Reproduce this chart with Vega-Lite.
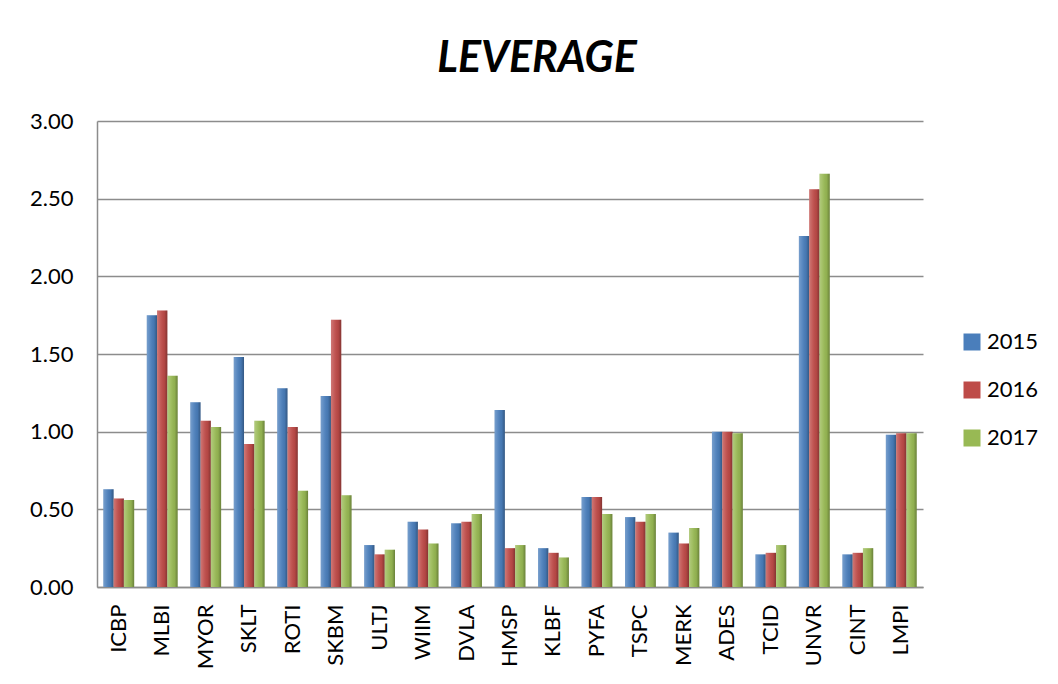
{
  "$schema": "https://vega.github.io/schema/vega-lite/v6.json",
  "width": 826,
  "height": 466,
  "autosize": {"type": "none"},
  "padding": {"left": 97, "top": 121, "right": 135, "bottom": 97},
  "background": "white",
  "title": {
    "text": "LEVERAGE",
    "font": "Lato",
    "fontSize": 43,
    "fontWeight": "bold",
    "fontStyle": "italic",
    "color": "black",
    "anchor": "middle",
    "dx": 27,
    "baseline": "alphabetic",
    "offset": -5
  },
  "config": {
    "view": {"stroke": null},
    "font": "Lato",
    "axis": {"labelFont": "Lato", "labelColor": "black", "titleColor": "black"}
  },
  "data": {
    "values": [
      {"company": "ICBP", "year": "2015", "value": 0.63},
      {"company": "ICBP", "year": "2016", "value": 0.57},
      {"company": "ICBP", "year": "2017", "value": 0.56},
      {"company": "MLBI", "year": "2015", "value": 1.75},
      {"company": "MLBI", "year": "2016", "value": 1.78},
      {"company": "MLBI", "year": "2017", "value": 1.36},
      {"company": "MYOR", "year": "2015", "value": 1.19},
      {"company": "MYOR", "year": "2016", "value": 1.07},
      {"company": "MYOR", "year": "2017", "value": 1.03},
      {"company": "SKLT", "year": "2015", "value": 1.48},
      {"company": "SKLT", "year": "2016", "value": 0.92},
      {"company": "SKLT", "year": "2017", "value": 1.07},
      {"company": "ROTI", "year": "2015", "value": 1.28},
      {"company": "ROTI", "year": "2016", "value": 1.03},
      {"company": "ROTI", "year": "2017", "value": 0.62},
      {"company": "SKBM", "year": "2015", "value": 1.23},
      {"company": "SKBM", "year": "2016", "value": 1.72},
      {"company": "SKBM", "year": "2017", "value": 0.59},
      {"company": "ULTJ", "year": "2015", "value": 0.27},
      {"company": "ULTJ", "year": "2016", "value": 0.21},
      {"company": "ULTJ", "year": "2017", "value": 0.24},
      {"company": "WIIM", "year": "2015", "value": 0.42},
      {"company": "WIIM", "year": "2016", "value": 0.37},
      {"company": "WIIM", "year": "2017", "value": 0.28},
      {"company": "DVLA", "year": "2015", "value": 0.41},
      {"company": "DVLA", "year": "2016", "value": 0.42},
      {"company": "DVLA", "year": "2017", "value": 0.47},
      {"company": "HMSP", "year": "2015", "value": 1.14},
      {"company": "HMSP", "year": "2016", "value": 0.25},
      {"company": "HMSP", "year": "2017", "value": 0.27},
      {"company": "KLBF", "year": "2015", "value": 0.25},
      {"company": "KLBF", "year": "2016", "value": 0.22},
      {"company": "KLBF", "year": "2017", "value": 0.19},
      {"company": "PYFA", "year": "2015", "value": 0.58},
      {"company": "PYFA", "year": "2016", "value": 0.58},
      {"company": "PYFA", "year": "2017", "value": 0.47},
      {"company": "TSPC", "year": "2015", "value": 0.45},
      {"company": "TSPC", "year": "2016", "value": 0.42},
      {"company": "TSPC", "year": "2017", "value": 0.47},
      {"company": "MERK", "year": "2015", "value": 0.35},
      {"company": "MERK", "year": "2016", "value": 0.28},
      {"company": "MERK", "year": "2017", "value": 0.38},
      {"company": "ADES", "year": "2015", "value": 1.00},
      {"company": "ADES", "year": "2016", "value": 1.00},
      {"company": "ADES", "year": "2017", "value": 0.99},
      {"company": "TCID", "year": "2015", "value": 0.21},
      {"company": "TCID", "year": "2016", "value": 0.22},
      {"company": "TCID", "year": "2017", "value": 0.27},
      {"company": "UNVR", "year": "2015", "value": 2.26},
      {"company": "UNVR", "year": "2016", "value": 2.56},
      {"company": "UNVR", "year": "2017", "value": 2.66},
      {"company": "CINT", "year": "2015", "value": 0.21},
      {"company": "CINT", "year": "2016", "value": 0.22},
      {"company": "CINT", "year": "2017", "value": 0.25},
      {"company": "LMPI", "year": "2015", "value": 0.98},
      {"company": "LMPI", "year": "2016", "value": 0.99},
      {"company": "LMPI", "year": "2017", "value": 0.99}
    ]
  },
  "encoding": {
    "x": {
      "field": "company",
      "type": "nominal",
      "sort": null,
      "scale": {"paddingInner": 0.29, "paddingOuter": 0.145},
      "axis": {
        "title": null,
        "labelAngle": -90,
        "labelFontSize": 22,
        "labelPadding": 17,
        "ticks": false,
        "domainColor": "#8c8c8c",
        "domainWidth": 1.5,
        "grid": false
      }
    },
    "xOffset": {"field": "year", "type": "nominal", "scale": {"paddingInner": 0, "paddingOuter": 0}},
    "y": {
      "field": "value",
      "type": "quantitative",
      "scale": {"domain": [0, 3], "nice": false},
      "axis": {
        "title": null,
        "values": [0, 0.5, 1, 1.5, 2, 2.5, 3],
        "format": ".2f",
        "labelFontSize": 22,
        "labelPadding": 24,
        "ticks": false,
        "domainColor": "#8c8c8c",
        "domainWidth": 1.5,
        "gridColor": "#8c8c8c",
        "gridWidth": 1.5
      }
    }
  },
  "layer": [
    {
      "mark": {"type": "bar"},
      "encoding": {
        "color": {
          "field": "year",
          "type": "nominal",
          "scale": {"domain": ["2015", "2016", "2017"], "range": ["#4A7EBB", "#BE4B48", "#98B954"]},
          "legend": {
            "title": null,
            "orient": "none",
            "legendX": 864,
            "legendY": 210,
            "symbolType": "square",
            "symbolSize": 289,
            "symbolStrokeWidth": 0,
            "labelFontSize": 22,
            "labelFont": "Lato",
            "labelColor": "black",
            "rowPadding": 26,
            "labelOffset": 4
          }
        }
      }
    },
    {
      "mark": {
        "type": "bar",
        "fill": {
          "gradient": "linear",
          "x1": 0, "y1": 0, "x2": 1, "y2": 0,
          "stops": [
            {"offset": 0, "color": "rgba(255,255,255,0.25)"},
            {"offset": 0.35, "color": "rgba(255,255,255,0.08)"},
            {"offset": 0.7, "color": "rgba(0,0,0,0.05)"},
            {"offset": 1, "color": "rgba(0,0,0,0.3)"}
          ]
        }
      },
      "encoding": {}
    }
  ]
}
